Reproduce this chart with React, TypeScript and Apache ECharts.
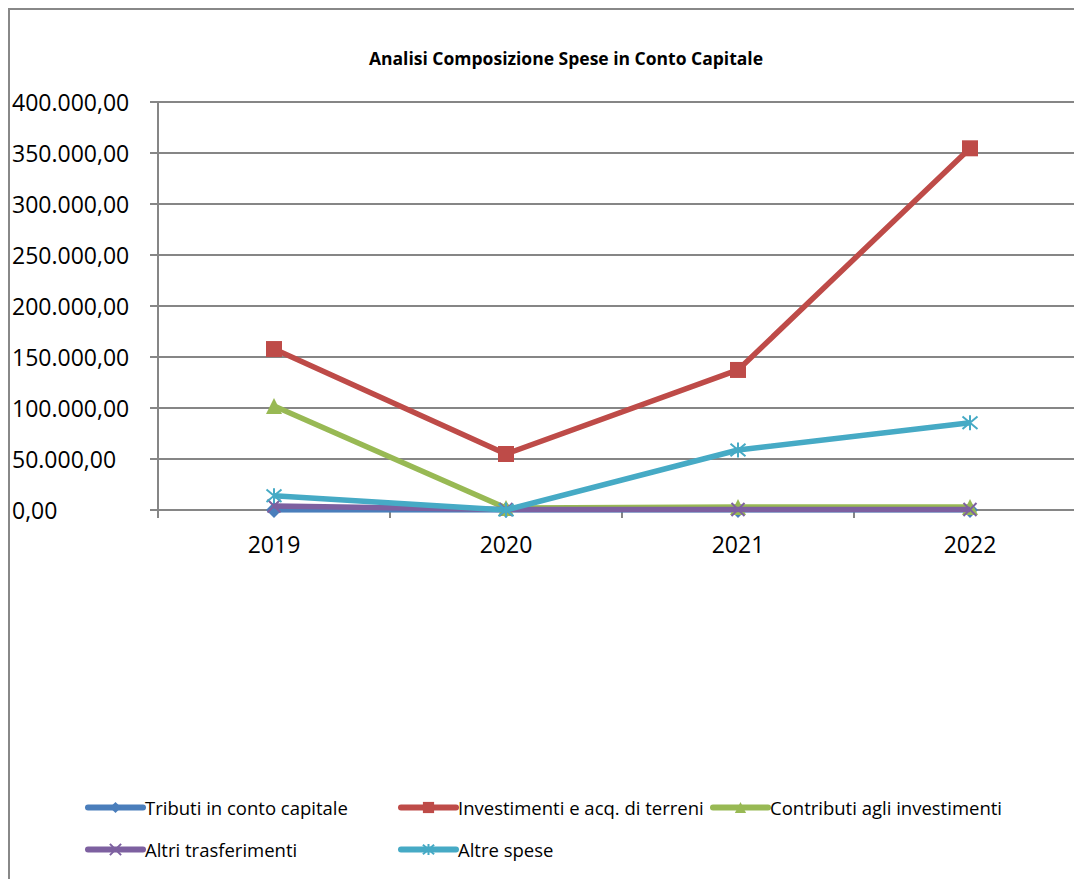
import React, { useEffect, useRef } from "react";
import * as echarts from "echarts";

const years = ["2019", "2020", "2021", "2022"];
const tributi = [0, 0, 0, 0];
const investimenti = [157800, 54900, 137300, 354600];
const contributi = [102000, 2000, 3000, 3000];
const altriTrasferimenti = [4000, 500, 500, 500];
const altreSpese = [14000, 0, 58800, 85600];

const seriesNames = [
  "Tributi in conto capitale",
  "Investimenti e acq. di terreni",
  "Contributi agli investimenti",
  "Altri trasferimenti",
  "Altre spese",
];
const colors = ["#4A7EBB", "#BE4B48", "#98B954", "#7D60A0", "#46AAC5"];

const FONT = "'Open Sans', 'DejaVu Sans', sans-serif";
const W = 1116;
const H = 900;

function fmt(v: number): string {
  const fixed = Math.abs(v).toFixed(2);
  const [intPart, dec] = fixed.split(".");
  const withSep = intPart.replace(/\B(?=(\d{3})+(?!\d))/g, ".");
  return (v < 0 ? "-" : "") + withSep + "," + dec;
}

const X_PATH = "path://M0 0 L10 10 M10 0 L0 10";
const STAR_PATH = "path://M0 0 L10 10 M10 0 L0 10 M5 -1 L5 11";

export default function App() {
  const ref = useRef<HTMLDivElement>(null);
  useEffect(() => {
    if (!ref.current) return;
    const chart = echarts.init(ref.current, null, { renderer: "svg" });
    const data = [tributi, investimenti, contributi, altriTrasferimenti, altreSpese];
    const symbols = ["diamond", "rect", "triangle", X_PATH, STAR_PATH];
    const sizes = [16, 16, 16, 13, 15];
    const series = data.map((d, i) => ({
      name: seriesNames[i],
      type: "line",
      data: d,
      symbol: symbols[i],
      symbolSize: sizes[i],
      showAllSymbol: true,
      lineStyle: { color: colors[i], width: 5.5 },
      itemStyle: {
        color: colors[i],
        borderColor: colors[i],
        borderWidth: i >= 3 ? 2 : 0,
      },
      emphasis: { disabled: true },
      z: 2 + i,
    }));
    const legendCommon = {
      orient: "vertical",
      top: 790,
      itemGap: 23,
      itemWidth: 55,
      itemHeight: 14,
      padding: 0,
      lineStyle: { width: 6, cap: "round" },
      textStyle: { fontSize: 18.5, fontFamily: FONT, color: "#000", padding: [0, 0, 0, -3] },
    };
    chart.setOption({
      animation: false,
      title: {
        text: "Analisi Composizione Spese in Conto Capitale",
        left: "center",
        top: 36,
        textStyle: { fontSize: 17.5, fontWeight: "bold", fontFamily: FONT, color: "#000" },
      },
      graphic: [
        {
          type: "rect",
          shape: { x: 1, y: 1, width: W - 2, height: H - 2 },
          style: { fill: "none", stroke: "#888888", lineWidth: 2 },
          silent: true,
        },
      ],
      legend: [
        { ...legendCommon, left: 77, data: [seriesNames[0], seriesNames[3]] },
        { ...legendCommon, left: 390, data: [seriesNames[1], seriesNames[4]] },
        { ...legendCommon, left: 702, data: [seriesNames[2]] },
      ],
      grid: { left: 150, right: W - 1078, top: 94, bottom: H - 502, containLabel: false },
      xAxis: {
        type: "category",
        data: years,
        boundaryGap: true,
        axisLine: { show: true, lineStyle: { color: "#868686", width: 2 } },
        axisTick: { show: true, length: 8, lineStyle: { color: "#868686", width: 2 } },
        axisLabel: { fontSize: 23, fontFamily: FONT, color: "#000", margin: 22 },
        splitLine: { show: false },
      },
      yAxis: {
        type: "value",
        min: 0,
        max: 400000,
        interval: 50000,
        axisLine: { show: true, lineStyle: { color: "#868686", width: 2 } },
        axisTick: { show: true, length: 8, lineStyle: { color: "#868686", width: 2 } },
        axisLabel: {
          fontSize: 23,
          fontFamily: FONT,
          color: "#000",
          align: "left",
          margin: 146,
          formatter: (v: number) => fmt(v),
        },
        splitLine: { show: true, lineStyle: { color: "#868686", width: 2 } },
      },
      series,
    });
    return () => chart.dispose();
  }, []);
  return (
    <div
      style={{
        position: "fixed",
        left: 8,
        top: 8,
        width: 1066,
        height: 871,
        overflow: "hidden",
        background: "#fff",
      }}
    >
      <div ref={ref} style={{ width: W, height: H }} />
    </div>
  );
}
